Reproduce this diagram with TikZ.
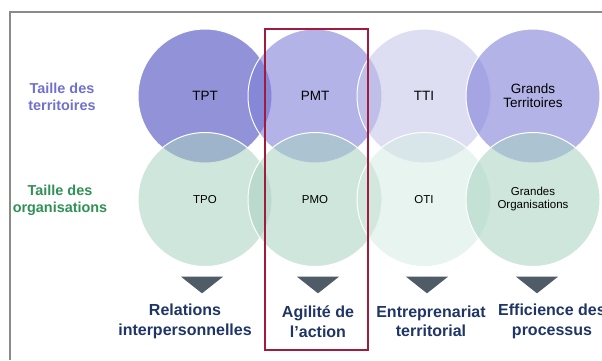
\documentclass[tikz,border=0pt]{standalone}
\usepackage{fontspec}
\setmainfont{Liberation Sans}
\begin{document}
\begin{tikzpicture}[x=1pt,y=-1pt,
  circ/.style={circle,minimum size=134pt,inner sep=0pt,draw=white,line width=1pt,fill opacity=0.6,text opacity=1,align=center,text=black},
  topc/.style={circ,font=\fontsize{13.5}{14}\selectfont},
  botc/.style={circ,fill opacity=0.55,font=\fontsize{11.5}{13}\selectfont},
  sidelbl/.style={font=\fontsize{14.4}{17}\bfseries\selectfont,align=center},
  outlbl/.style={font=\fontsize{16}{19.5}\bfseries\selectfont,align=center,text=navy},
  tri/.style={fill=trigray,draw=none},
]
\definecolor{cTPT}{HTML}{4949C0}
\definecolor{cPMT}{HTML}{8080D9}
\definecolor{cTTI}{HTML}{C8C8EB}
\definecolor{cGrn}{HTML}{A8D1C1}
\definecolor{cGrnL}{HTML}{D5EBE2}
\definecolor{navy}{HTML}{1F3566}
\definecolor{trigray}{HTML}{4F5B66}
\definecolor{lavtxt}{HTML}{7070D0}
\definecolor{grntxt}{HTML}{2E9156}
\definecolor{framered}{HTML}{A01C3C}
\definecolor{framegray}{HTML}{8A8A8A}
\useasboundingbox (0,0) rectangle (602,360);
\clip (0,0) rectangle (602,360);
% frame
\coordinate (fl) at (10,360);
\coordinate (fc) at (10,12);
\coordinate (fr) at (602,12);
\draw[framegray,line width=1.3pt] (fl) -- (fc) -- (fr);
% top circles
\node[topc,fill=cTPT] (tpt) at (205,96) {TPT};
\node[topc,fill=cPMT] (pmt) at (315,96) {PMT};
\node[topc,fill=cTTI] (tti) at (424,96) {TTI};
\node[topc,fill=cPMT] (gt) at (533,96) {Grands\\Territoires};
% bottom circles
\node[botc,fill=cGrn] (tpo) at (205,199.5) {TPO};
\node[botc,fill=cGrn] (pmo) at (315,199.5) {PMO};
\node[botc,fill=cGrnL] (oti) at (424,199.5) {OTI};
\node[botc,fill=cGrn] (go) at (533,199.5) {Grandes\\Organisations};
% side labels
\node[sidelbl,text=lavtxt] (st) at (62,97) {Taille des\\territoires};
\node[sidelbl,text=grntxt] (so) at (60,200) {Taille des\\organisations};
% triangles
\foreach \cx/\nm in {202/t1,318/t2,427/t3,537/t4}{
  \fill[tri] (\cx-21,276.7) -- (\cx+21,276.7) -- (\cx,293.3) -- cycle;
}
% outcome labels
\node[outlbl] (o1) at (185,321.5) {Relations\\interpersonnelles};
\node[outlbl] (o2) at (318,321.5) {Agilité de\\l’action};
\node[outlbl] (o3) at (431,321.5) {Entreprenariat\\territorial};
\node[outlbl] (o4) at (552,321.5) {Efficience des\\processus};
% red highlight
\node[draw=framered,line width=2pt,minimum width=103pt,minimum height=321pt,inner sep=0pt] (hl) at (316.7,189) {};
\end{tikzpicture}
\end{document}
